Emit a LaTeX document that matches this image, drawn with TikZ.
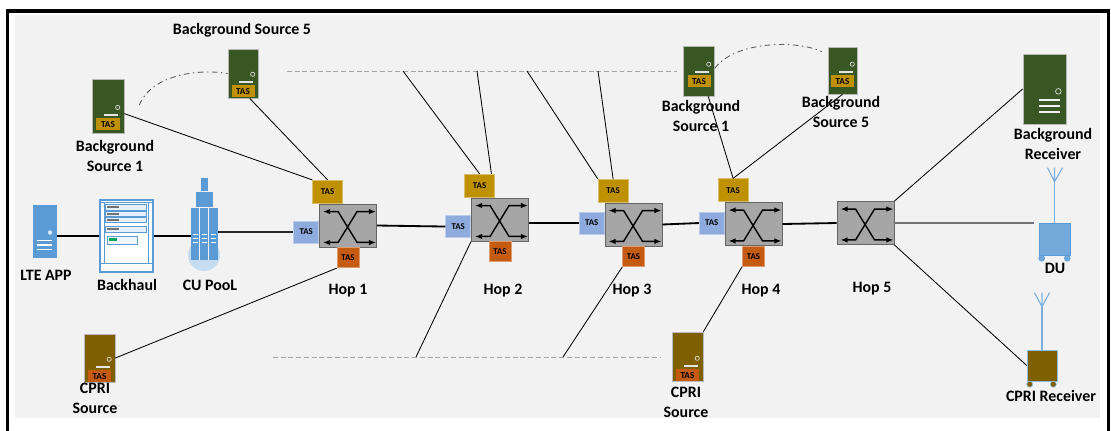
\documentclass[tikz,border=0pt]{standalone}
\usepackage{fontspec}
\setmainfont{Carlito}
\usetikzlibrary{arrows.meta,positioning}

\definecolor{panel}{HTML}{F2F2F2}
\definecolor{srvgreen}{HTML}{385723}
\definecolor{tasgold}{HTML}{BF9000}
\definecolor{tasorange}{HTML}{C55A11}
\definecolor{tasblue}{HTML}{8FAADC}
\definecolor{iconblue}{HTML}{5B9BD5}
\definecolor{cpribrown}{HTML}{7F6000}
\definecolor{swgray}{HTML}{A6A6A6}

% crossing arrows on a switch box
\newcommand\hoparrows[1]{%
  \draw[<->, line width=1pt] ([shift={(4,8)}]#1.north west) -- ([shift={(19,8)}]#1.north west)
    -- ([shift={(38,-5)}]#1.south west) -- ([shift={(-1,-5)}]#1.south east);
  \draw[<->, line width=1pt] ([shift={(4,-5)}]#1.south west) -- ([shift={(19,-5)}]#1.south west)
    -- ([shift={(38,8)}]#1.north west) -- ([shift={(-1,8)}]#1.north east);
}

% server front: tag, slot and led
\newcommand\srvface[3]{%
  \node[srvtag, fill=#2, anchor=south] (#1t) at ([yshift=#3]#1.south) {TAS};
  \draw[white!80!gray, line width=1pt] ([shift={(-1pt,2pt)}]#1t.north east) -- ++(-10pt,0);
  \draw[white!70!gray, line width=0.5pt] ([shift={(-1.5pt,7.5pt)}]#1t.north east) circle (1.5pt);
}

\begin{document}
\begin{tikzpicture}[
    x=0.025cm, y=-0.025cm,
    font=\bfseries\fontsize{11.3}{14.2}\selectfont,
    >={Latex[length=5pt,width=4pt]},
    lbl/.style={align=center, inner sep=0pt},
    hop/.style={draw=black!60, fill=swgray, line width=0.6pt, minimum width=1.425cm, minimum height=1.075cm, inner sep=0pt},
    tas/.style={draw=#1!60!white, fill=#1, line width=0.5pt, inner sep=0pt, font=\bfseries\fontsize{6.3}{7}\selectfont},
    tasg/.style={tas=tasgold, minimum width=0.75cm, minimum height=0.575cm},
    tasb/.style={tas=tasblue, minimum width=0.625cm, minimum height=0.55cm},
    taso/.style={tas=tasorange, minimum width=0.55cm, minimum height=0.5cm},
    srv/.style={draw=gray!55, fill=#1, line width=0.5pt, inner sep=0pt, minimum width=0.775cm, minimum height=1.25cm},
    srvtag/.style={inner sep=0pt, minimum width=0.575cm, minimum height=0.3cm, font=\bfseries\fontsize{6.5}{7}\selectfont},
    trunk/.style={line width=1.3pt},
    link/.style={line width=0.6pt},
    bus/.style={gray!70, line width=0.7pt, dash pattern=on 3.5pt off 2pt},
    pair/.style={gray!70!black, line width=0.6pt, dash pattern=on 4pt off 2.5pt on 1pt off 2.5pt},
    mast/.style={iconblue!80!white, line width=0.8pt}
]
\useasboundingbox (0,0) rectangle (1111,430);
\fill[white] (0,0) rectangle (1111,430);
\fill[panel] (15,15) rectangle (1100,418);
\draw[line width=2.2pt] (7.5,432) -- (7.5,11) -- (1108.5,11) -- (1108.5,432);

% LTE app server
\node[fill=iconblue, minimum width=0.6cm, minimum height=1.325cm, inner sep=0pt] (lte) at (45,231.5) {};
\fill[white!75!iconblue] ([shift={(5,1)}]lte.center) circle (1.6pt);
\foreach \dy in {9,13.5,18}
  \draw[white, line width=0.8pt] ([shift={(-8,\dy)}]lte.center) -- ++(15,0);
\node[lbl] (ltel) at (46,275) {LTE APP};

% backhaul rack
\node[draw=iconblue, fill=white, line width=0.8pt, minimum width=1.325cm, minimum height=1.8cm, inner sep=0pt] (bh) at (126.5,236) {};
\draw[iconblue, line width=0.5pt] ([shift={(0,3)}]bh.north west) -- ([shift={(0,3)}]bh.north east)
  ([shift={(0,-9)}]bh.south west) -- ([shift={(0,-9)}]bh.south east)
  ([shift={(5,3)}]bh.north west) -- ([shift={(5,-9)}]bh.south west)
  ([shift={(-5,3)}]bh.north east) -- ([shift={(-5,-9)}]bh.south east);
\foreach \uy/\uh in {5/6, 12/5, 18/5, 27/6}{
  \draw[iconblue, fill=iconblue!15, line width=0.4pt] ([shift={(6,\uy)}]bh.north west) rectangle ++(41,\uh);
  \fill[black!55] ([shift={(8,\uy+2)}]bh.north west) rectangle ++(12,2);
}
\draw[iconblue, fill=iconblue!10, line width=0.4pt] ([shift={(8,37)}]bh.north west) rectangle ++(30,8);
\fill[teal!70!green] ([shift={(10,39)}]bh.north west) rectangle ++(8,3);
\node[lbl] (bhl) at (127,285) {Backhaul};

% CU pool tower
\node[circle, fill=iconblue!35, minimum size=0.8cm, inner sep=0pt] (cuglow) at (204,255) {};
\node[fill=iconblue, minimum width=0.675cm, minimum height=1.3cm, inner sep=0pt] (cu) at (204.5,234) {};
\fill[iconblue] ([shift={(5,0)}]cu.north west) rectangle ++(17,-16);
\fill[iconblue] ([shift={(10,-16)}]cu.north west) rectangle ++(7,-14);
\draw[panel, line width=0.6pt] ([shift={(9,0)}]cu.north west) -- ([shift={(9,0)}]cu.south west)
  ([shift={(18,0)}]cu.north west) -- ([shift={(18,0)}]cu.south west)
  ([shift={(5,0)}]cu.north west) -- ([shift={(22,0)}]cu.north west)
  ([shift={(10,-16)}]cu.north west) -- ([shift={(17,-16)}]cu.north west);
\foreach \cx in {2,11,20}
  \foreach \dy in {27,31,35}
    \draw[white, line width=0.6pt] ([shift={(\cx,\dy)}]cu.north west) -- ++(5,0);
\node[lbl] (cul) at (210,285) {CU PooL};

% hops
\node[hop] (h1) at (348,225.5) {};
\node[hop] (h2) at (500,219.5) {};
\node[hop] (h3) at (633.5,224.5) {};
\node[hop] (h4) at (753.5,224) {};
\node[hop] (h5) at (865.5,223) {};
\foreach \h in {h1,h2,h3,h4,h5}{\hoparrows{\h}}

\node[tasg, above=0pt of h1, xshift=-14.5pt] (g1) {TAS};
\node[tasb, left=0pt of h1, yshift=-4.6pt] (b1) {TAS};
\node[taso, below=0pt of h1] (o1) {TAS};
\node[tasg, above=0pt of h2, xshift=-14.5pt] (g2) {TAS};
\node[tasb, left=0pt of h2, yshift=-5pt] (b2) {TAS};
\node[taso, below=0pt of h2] (o2) {TAS};
\node[tasg, above=0pt of h3, xshift=-14.5pt] (g3) {TAS};
\node[tasb, left=0pt of h3, yshift=1pt] (b3) {TAS};
\node[taso, below=0pt of h3] (o3) {TAS};
\node[tasg, above=0pt of h4, xshift=-14.5pt] (g4) {TAS};
\node[tasb, left=0pt of h4, yshift=0.7pt] (b4) {TAS};
\node[taso, below=0pt of h4] (o4) {TAS};

\node[lbl] (h1l) at (348,291) {Hop 1};
\node[lbl] (h2l) at (503,291) {Hop 2};
\node[lbl] (h3l) at (632,291) {Hop 3};
\node[lbl] (h4l) at (761,291) {Hop 4};
\node[lbl] (h5l) at (872,289) {Hop 5};

% background sources
\node[srv=srvgreen, minimum width=0.8cm, minimum height=1.35cm] (bsl1) at (108,106) {};
\srvface{bsl1}{tasgold}{2pt}
\node[srv=srvgreen, minimum width=0.75cm, minimum height=1.225cm] (bsl5) at (243,73.5) {};
\srvface{bsl5}{tasgold}{0.7pt}
\node[srv=srvgreen] (bsr1) at (699,71) {};
\srvface{bsr1}{tasgold}{6.4pt}
\node[srv=srvgreen, minimum width=0.725cm, minimum height=1.175cm] (bsr5) at (842.5,70.5) {};
\srvface{bsr5}{tasgold}{5pt}
\node[lbl] (bsl1l) at (115,156) {Background\\Source 1};
\node[lbl] (bsl5l) at (242,30) {Background Source 5};
\node[lbl] (bsr1l) at (701,115.5) {Background\\Source 1};
\node[lbl] (bsr5l) at (841,111.5) {Background\\Source 5};

% background receiver
\node[srv=srvgreen, minimum width=1.075cm, minimum height=1.75cm] (bgrx) at (1044.5,89) {};
\draw[white!70!gray, line width=0.5pt] ([shift={(-8,-33)}]bgrx.south east) circle (2pt);
\foreach \dy in {-24,-18,-12}
  \draw[white!90!gray, line width=1.3pt] ([shift={(-6,\dy)}]bgrx.south east) -- ++(-21,0);
\node[lbl] (bgrxl) at (1053,143.5) {Background\\Receiver};

% CPRI sources
\node[srv=cpribrown, minimum height=1.2cm] (csl) at (99.5,358) {};
\srvface{csl}{tasorange}{0pt}
\node[lbl] (csll) at (95,398) {CPRI\\Source};
\node[srv=cpribrown, minimum height=1.225cm] (csm) at (687.5,356.5) {};
\srvface{csm}{tasorange}{0pt}
\node[lbl] (csml) at (686,402.5) {CPRI\\Source};

% DU
\node[fill=iconblue!85!white, draw=iconblue, minimum width=0.775cm, minimum height=0.8cm, inner sep=0pt] (du) at (1054.5,239) {};
\filldraw[fill=iconblue!85!white, draw=iconblue] ([shift={(3,3)}]du.south west) circle (2.1pt)
  ([shift={(-3,3)}]du.south east) circle (2.1pt);
\draw[mast] (du.north) -- ++(0,-41) coordinate (dua);
\draw[mast] (dua) -- ++(-7,-14) (dua) -- ++(0,-14) (dua) -- ++(8,-14);
\node[lbl] (dul) at (1055,268) {DU};

% CPRI receiver
\node[fill=cpribrown, draw=iconblue!70, minimum width=0.75cm, minimum height=0.775cm, inner sep=0pt] (cprx) at (1042,365.5) {};
\filldraw[fill=cpribrown, draw=iconblue!70] ([shift={(3,3)}]cprx.south west) circle (2.1pt)
  ([shift={(-4,3)}]cprx.south east) circle (2.1pt);
\draw[mast] (cprx.north) -- ++(0,-43) coordinate (cpa);
\draw[mast] (cpa) -- ++(-7.5,-14) (cpa) -- ++(0,-14) (cpa) -- ++(7.5,-14);
\node[lbl] (cprxl) at (1051,396) {CPRI Receiver};

% dashed buses and their taps
\coordinate (tbl) at (287,71);
\coordinate (tbr) at (677,71);
\coordinate (bbl) at (273,357);
\coordinate (bbr) at (660,357);
\coordinate (t1) at (403,71);
\coordinate (t2) at (477,71);
\coordinate (t3) at (527,71);
\coordinate (t4) at (598,71);
\coordinate (u1) at (416,357);
\coordinate (u2) at (563,357);
\draw[bus] (tbl) -- (tbr);
\draw[bus] (bbl) -- (bbr);

% main chain
\draw[trunk] (bh.west -| lte.east) -- (bh.west);
\draw[trunk] (bh.east) -- (bh.east -| cu.west);
\draw[line width=0.9pt, black!85] (cu.east |- b1) -- (b1.west);
\draw[trunk] (h1.east) -- (b2.west);
\draw[trunk] (b3.west -| h2.east) -- (b3.west);
\draw[trunk] (h3.east) -- (b4.west);
\draw[trunk] (h4.east) -- (h5.west);
\draw[line width=1.2pt, gray!90!black, shorten >=3.5pt] (h5.east) -- (h5.east -| du.west);

% side links
\draw[link] (t1) -- (g2.north);
\draw[link] (t2) -- (g2.45);
\draw[link] (t3) -- (g3.north west);
\draw[link] (t4) -- (g3.north);
\draw[link] (u1) -- (h2.south west);
\draw[link] (u2) -- (o3.south west);
\draw[link] (bsl1.-25) -- (g1.north west);
\draw[link] (bsl5.-75) -- (g1.north);
\draw[link] (bsr1.-70) -- (g4.north);
\draw[link] (bsr5.south) -- (g4.north);
\draw[link] (csl.east) -- (o1.south west);
\draw[link] (csm.north east) -- (o4.south west);
\draw[link] (h5.north east) -- (bgrx.west);
\draw[link] (h5.south east) -- (cprx.west);

% source pairs
\draw[pair] ([shift={(15,-1)}]bsl1.east) .. controls +(12,-30) and +(-30,-5) .. (bsl5.west);
\draw[pair] (bsr1.10) .. controls +(20,-27) and +(-25,-12) .. ([shift={(-6,5)}]bsr5.north west);
\end{tikzpicture}
\end{document}
